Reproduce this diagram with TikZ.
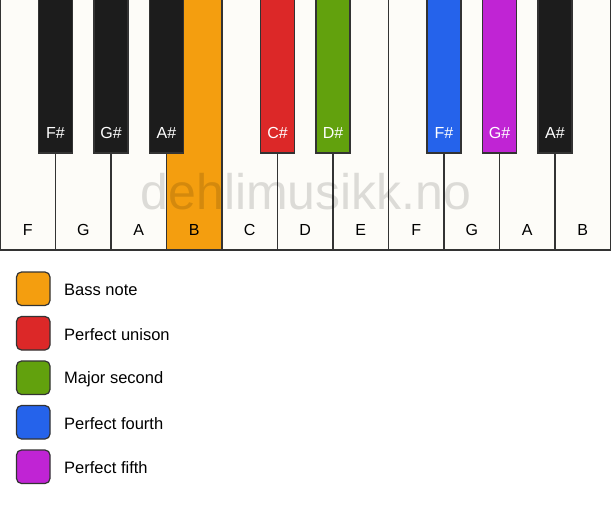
\documentclass[tikz,border=0pt]{standalone}
\usepackage{fontspec}
\setmainfont{Liberation Sans}
\definecolor{keywhite}{HTML}{FDFCF8}
\definecolor{keyblack}{HTML}{1C1C1C}
\definecolor{cbass}{HTML}{F49E0F}
\definecolor{cunison}{HTML}{DC2828}
\definecolor{csecond}{HTML}{62A10D}
\definecolor{cfourth}{HTML}{2563EB}
\definecolor{cfifth}{HTML}{C024D4}
\definecolor{outline}{HTML}{333333}
\tikzset{
  whitekey/.style={draw=outline, line width=1.4pt, fill=keywhite},
  blackkey/.style={draw=outline, line width=1.2pt, fill=keyblack},
  wlabel/.style={font=\fontsize{16}{16}\selectfont, text=black},
  blabel/.style={font=\fontsize{16}{16}\selectfont, text=white},
  legbox/.style={draw=outline, line width=1.2pt, rounded corners=5pt, minimum width=33.5pt, minimum height=33.5pt, inner sep=0pt},
  legtext/.style={font=\fontsize{16.5}{16.5}\selectfont, anchor=west, inner sep=0pt}
}
\begin{document}
\begin{tikzpicture}[x=1pt,y=-1pt]
\useasboundingbox[fill=white] (0,0) rectangle (611,506);
% white keys
\foreach \i/\n/\c in {0/F/keywhite,1/G/keywhite,2/A/keywhite,3/B/cbass,4/C/keywhite,5/D/keywhite,6/E/keywhite,7/F/keywhite,8/G/keywhite,9/A/keywhite,10/B/keywhite}{
  \path[whitekey, fill=\c] (\i*55.5,-2) rectangle (\i*55.5+55.5,250);
  \node[wlabel] (w\i) at (\i*55.5+27.75,230) {\n};
}
% black keys
\foreach \i/\n/\c in {1/F\#/keyblack,2/G\#/keyblack,3/A\#/keyblack,5/C\#/cunison,6/D\#/csecond,8/F\#/cfourth,9/G\#/cfifth,10/A\#/keyblack}{
  \path[blackkey, fill=\c] (\i*55.5-17,-2) rectangle (\i*55.5+17,153);
  \node[blabel] (b\i) at (\i*55.5,133) {\n};
}
% watermark
\node[font=\fontsize{50}{50}\selectfont, text=black, text opacity=0.13] (wm) at (306,192) {dehlimusikk.no};
% legend
\foreach \k/\c/\t in {0/cbass/Bass note,1/cunison/Perfect unison,2/csecond/Major second,3/cfourth/Perfect fourth,4/cfifth/Perfect fifth}{
  \node[legbox, fill=\c] (l\k) at (33.25,288.75+\k*44.5) {};
  \node[legtext] (t\k) at (64,290+\k*44.5) {\t};
}
\end{tikzpicture}
\end{document}
